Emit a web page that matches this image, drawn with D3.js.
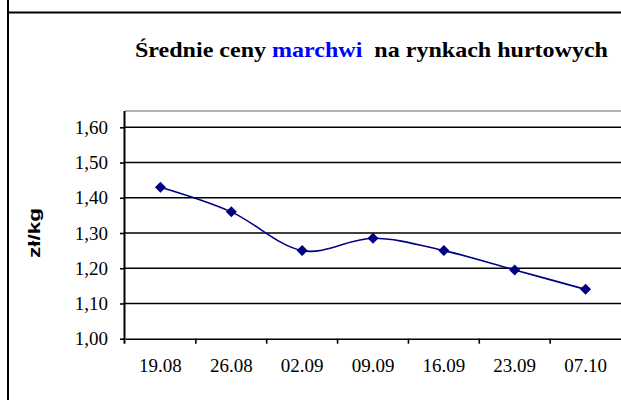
<!DOCTYPE html>
<html>
<head>
<meta charset="utf-8">
<script src="https://cdn.jsdelivr.net/npm/d3@7"></script>
<style>
  body { margin: 0; background: #fff; }
</style>
</head>
<body>
<div id="chart"></div>
<script>
// data
const dates = ["19.08", "26.08", "02.09", "09.09", "16.09", "23.09", "07.10"];
const prices = [1.43, 1.36, 1.25, 1.285, 1.25, 1.195, 1.14];
const yTicks = [1.0, 1.1, 1.2, 1.3, 1.4, 1.5, 1.6];

const SERIF = '"Liberation Serif", "Times New Roman", serif';
const SANS = '"Liberation Sans", Arial, sans-serif';

const W = 621, H = 400;
const margin = {top: 111, right: 0, bottom: 61.3, left: 125};
const width = W - margin.left - margin.right,
      height = H - margin.top - margin.bottom;

const svg = d3.select("#chart")
  .append("svg")
    .attr("width", W)
    .attr("height", H);

// outer frame lines
svg.append("line")
  .attr("x1", 8).attr("x2", 8).attr("y1", 0).attr("y2", H)
  .attr("stroke", "#000").attr("stroke-width", 2);
svg.append("line")
  .attr("x1", 8).attr("x2", W).attr("y1", 12.5).attr("y2", 12.5)
  .attr("stroke", "#000").attr("stroke-width", 2);

// title
const title = svg.append("text")
  .attr("x", 135)
  .attr("y", 57)
  .attr("textLength", 473)
  .attr("lengthAdjust", "spacingAndGlyphs")
  .style("font-family", SERIF)
  .style("font-weight", "bold")
  .style("font-size", "21px")
  .style("white-space", "pre");
title.append("tspan").text("Średnie ceny ");
title.append("tspan").style("fill", "#0000ff").text("marchwi");
title.append("tspan").text("  na rynkach hurtowych");

const g = svg.append("g")
  .attr("transform", `translate(${margin.left},${margin.top})`);

// scales
const x = d3.scaleBand()
  .domain(dates)
  .range([0, width]);

const y = d3.scaleLinear()
  .domain([1.0, 1.6])
  .range([height, 16.3]);

// plot area top border (grey)
g.append("line")
  .attr("x1", 0).attr("x2", width)
  .attr("y1", 0).attr("y2", 0)
  .attr("stroke", "#999").attr("stroke-width", 1.5);

// gridlines
g.selectAll(".grid")
  .data(yTicks.slice(1))
  .join("line")
    .attr("class", "grid")
    .attr("x1", 0).attr("x2", width)
    .attr("y1", d => y(d)).attr("y2", d => y(d))
    .attr("stroke", "#000").attr("stroke-width", 1.6);

// Y axis
const yAxis = g.append("g")
  .call(d3.axisLeft(y)
    .tickValues(yTicks)
    .tickSize(5)
    .tickPadding(12)
    .tickFormat(d => d3.format(".2f")(d).replace(".", ",")));
yAxis.select(".domain")
  .attr("d", `M-0.5,0V${height + 5}`)
  .attr("stroke-width", 2);
yAxis.selectAll(".tick line").attr("stroke-width", 1.6);
yAxis.selectAll("text")
  .style("font-family", SERIF)
  .style("font-size", "19px")
  .style("fill", "#000");

// X axis, ticks on category boundaries
const xAxis = g.append("g")
  .attr("transform", `translate(0,${height})`)
  .call(d3.axisBottom(x).tickSize(0).tickPadding(19.5));
xAxis.select(".domain").attr("stroke-width", 1.6);
xAxis.selectAll("text")
  .style("font-family", SERIF)
  .style("font-size", "19px")
  .style("fill", "#000");
xAxis.selectAll(".bound")
  .data(dates.slice(1))
  .join("line")
    .attr("class", "bound")
    .attr("x1", d => x(d)).attr("x2", d => x(d))
    .attr("y1", 0).attr("y2", 5)
    .attr("stroke", "#000").attr("stroke-width", 1.6);

// Y axis title
svg.append("text")
  .attr("transform", `translate(40,${margin.top + y(1.3)}) rotate(-90)`)
  .attr("text-anchor", "middle")
  .attr("textLength", 50)
  .attr("lengthAdjust", "spacingAndGlyphs")
  .style("font-family", SANS)
  .style("font-weight", "bold")
  .style("font-size", "17px")
  .text("zł/kg");

// line
const cx = d => x(d) + x.bandwidth() / 2;
g.append("path")
  .datum(prices)
  .attr("fill", "none")
  .attr("stroke", "#000080")
  .attr("stroke-width", 1.6)
  .attr("d", d3.line()
    .x((d, i) => cx(dates[i]))
    .y(d => y(d))
    .curve(d3.curveCatmullRom.alpha(0)));

// diamond markers
g.selectAll(".pt")
  .data(prices)
  .join("path")
    .attr("class", "pt")
    .attr("transform", (d, i) => `translate(${cx(dates[i])},${y(d)})`)
    .attr("d", "M0,-5.5L5.5,0L0,5.5L-5.5,0Z")
    .attr("fill", "#000080");
</script>
</body>
</html>
